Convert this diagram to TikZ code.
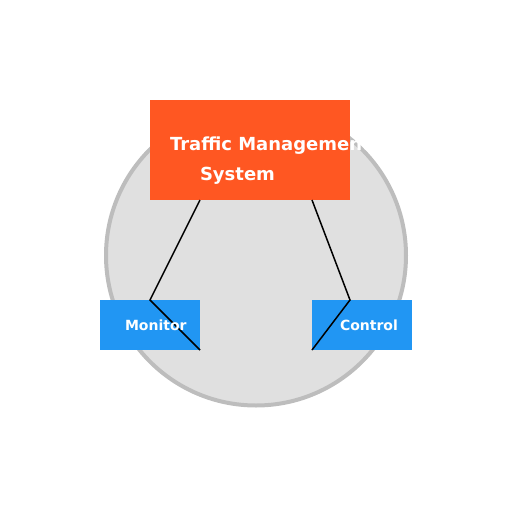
\documentclass[tikz,border=0pt]{standalone}
\usepackage{fontspec}
\setmainfont{DejaVu Sans}
\usepackage{tikz}
\usetikzlibrary{positioning}

\definecolor{ringfill}{HTML}{E0E0E0}
\definecolor{ringline}{HTML}{BDBDBD}
\definecolor{sysorange}{HTML}{FF5722}
\definecolor{unitblue}{HTML}{2196F3}

\begin{document}
\begin{tikzpicture}[x=1pt,y=-1pt,inner sep=0pt,outer sep=0pt]
  \tikzstyle{box}=[rectangle,minimum width=100pt,minimum height=50pt,fill=unitblue]
  \tikzstyle{lbl}=[anchor=base west,text=white,font=\bfseries]

  \useasboundingbox (0,0) rectangle (512,512);

  \node[circle,fill=ringfill,draw=ringline,line width=4pt,minimum size=300pt] (ring) at (256,255.5) {};
  \node[rectangle,fill=sysorange,minimum width=200pt,minimum height=100pt] (sys) at (250,150) {};
  \node[box] (mon) at (150,325) {};
  \node[box] (ctl) at (362,325) {};

  \coordinate (la) at (200,200);
  \coordinate (ra) at (312,200);
  \coordinate (rb) at (350,300);

  \draw[line width=1.5pt] (la) -- (mon.north) -- (mon.south east);
  \draw[line width=1.5pt] (ra) -- (rb) -- (ctl.south west);

  \node[lbl,font=\bfseries\fontsize{18}{22}\selectfont] (t1) at (170,150) {Traffic Management};
  \node[lbl,font=\bfseries\fontsize{18}{22}\selectfont] (t2) at (200,180) {System};
  \node[lbl,font=\bfseries\fontsize{14}{17}\selectfont] (t3) at (125,330) {Monitor};
  \node[lbl,font=\bfseries\fontsize{14}{17}\selectfont] (t4) at (340,330) {Control};
\end{tikzpicture}
\end{document}
